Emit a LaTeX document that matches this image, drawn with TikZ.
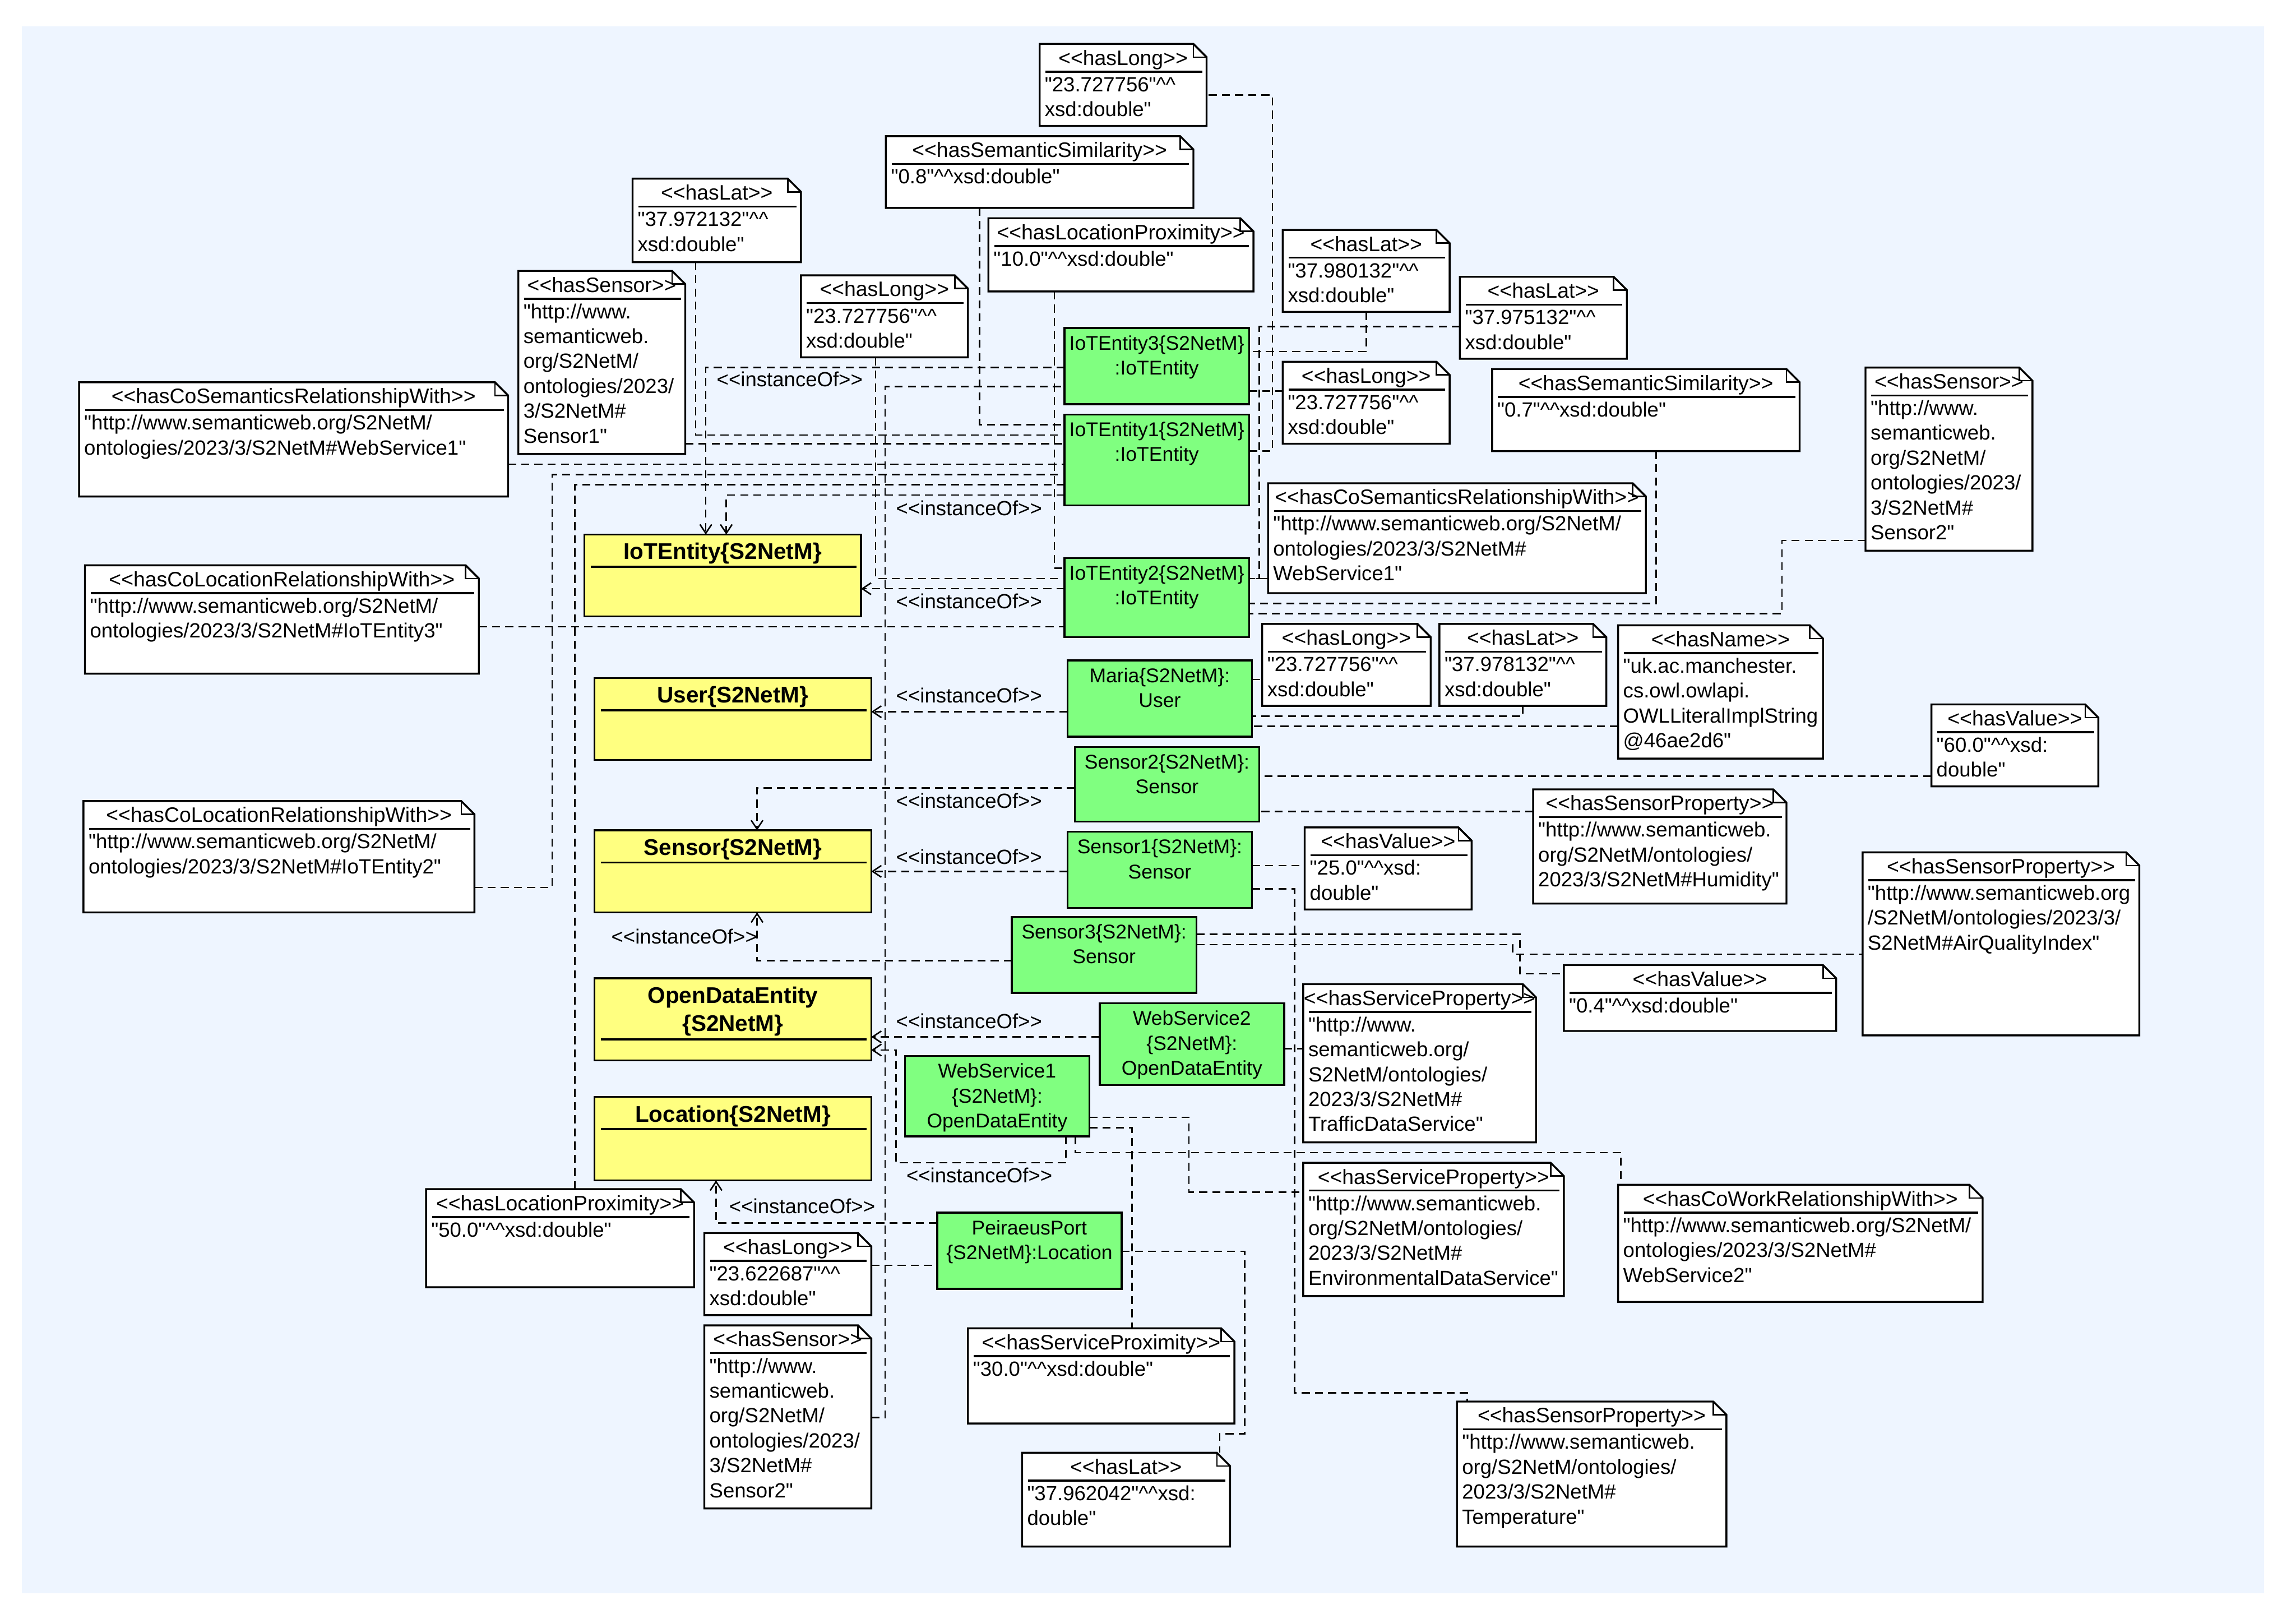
\documentclass[tikz,border=0pt]{standalone}
\usepackage{fontspec}
\newfontfamily\uif{Liberation Sans}
\usetikzlibrary{arrows.meta}
\pgfdeclarelayer{bg}
\pgfsetlayers{bg,main}
\definecolor{bgblue}{RGB}{238,245,255}
\definecolor{clsyellow}{RGB}{255,255,128}
\definecolor{insgreen}{RGB}{128,255,128}
\newcommand\dcaret{\textasciicircum\textasciicircum}
\tikzset{
  boxframe/.style={inner sep=0pt, outer sep=0pt, anchor=north west},
  boxline/.style={line width=1.3pt},
  notetxt/.style={font=\uif\fontsize{14}{17}\selectfont, inner sep=0pt, outer sep=0pt},
  hdrtxt/.style={font=\uif\fontsize{14.3}{17}\selectfont, inner sep=0pt, outer sep=0pt},
  insttxt/.style={font=\uif\fontsize{13.6}{17}\selectfont, inner sep=0pt, outer sep=0pt},
  clstxt/.style={font=\uif\bfseries\fontsize{15.5}{19}\selectfont, inner sep=0pt, outer sep=0pt},
  lbl/.style={notetxt, anchor=base west},
  conn/.style={draw=black, line width=1pt, dash pattern=on 5.5pt off 3.5pt},
  instof/.style={conn, -{Straight Barb[length=6pt,width=8pt,line width=1pt]}},
}
% note: name, x, y, w, h, header, body lines
\newcommand\mknote[7]{%
  \node[boxframe, minimum width=#4pt, minimum height=#5pt] (#1) at (#2,#3) {};
  \filldraw[boxline, fill=white, line join=miter] (#1.north west) -- ([xshift=-9pt]#1.north east) -- ([yshift=-9pt]#1.north east) -- (#1.south east) -- (#1.south west) -- cycle;
  \draw[line width=1pt] ([xshift=-9pt]#1.north east) -- ([xshift=-9pt,yshift=-9pt]#1.north east) -- ([yshift=-9pt]#1.north east);
  \draw[boxline] ([xshift=4pt,yshift=-19pt]#1.north west) -- ([xshift=-3pt,yshift=-19pt]#1.north east);
  \node[hdrtxt, anchor=base] (#1-h) at ([yshift=-14.5pt]#1.north) {#6};
  \foreach \bodyline [count=\i] in {#7} {%
    \pgfmathsetmacro\yy{-32.5-17*(\i-1)}%
    \node[notetxt, anchor=base west] (#1-b\i) at ([xshift=3.5pt,yshift=\yy pt]#1.north west) {\bodyline};
  }%
}
% class: name, x, y, w, h, lines, separator offset
\newcommand\mkclass[7]{%
  \node[boxframe, draw, boxline, fill=clsyellow, minimum width=#4pt, minimum height=#5pt] (#1) at (#2,#3) {};
  \foreach \clsline [count=\i] in {#6} {%
    \pgfmathsetmacro\yy{-17-19*(\i-1)}%
    \node[clstxt, anchor=base] (#1-t\i) at ([yshift=\yy pt]#1.north) {\clsline};
  }%
  \draw[boxline] ([xshift=4.5pt,yshift=-#7pt]#1.north west) -- ([xshift=-3pt,yshift=-#7pt]#1.north east);
}
% instance: name, x, y, w, h, lines
\newcommand\mkinst[6]{%
  \node[boxframe, draw, boxline, fill=insgreen, minimum width=#4pt, minimum height=#5pt] (#1) at (#2,#3) {};
  \foreach \instline [count=\i] in {#6} {%
    \pgfmathsetmacro\yy{-15-17*(\i-1)}%
    \node[insttxt, anchor=base] (#1-t\i) at ([yshift=\yy pt]#1.north) {\instline};
  }%
}
\begin{document}
\begin{tikzpicture}[x=1pt,y=-1pt]
\useasboundingbox (0,0) rectangle (1568,1108);

% ---------- notes ----------
\mknote{nLong1}{710}{30}{114}{56}{<<hasLong>>}{{"23.727756"\dcaret},{xsd:double"}}
\mknote{nSim1}{605}{93}{210}{49}{<<hasSemanticSimilarity>>}{{"0.8"\dcaret xsd:double"}}
\mknote{nLat1}{432}{122}{115}{57}{<<hasLat>>}{{"37.972132"\dcaret},{xsd:double"}}
\mknote{nLocP1}{675}{149}{181}{50}{<<hasLocationProximity>>}{{"10.0"\dcaret xsd:double"}}
\mknote{nLong2}{547}{188}{114}{56}{<<hasLong>>}{{"23.727756"\dcaret},{xsd:double"}}
\mknote{nSens1}{354}{185}{114}{125}{<<hasSensor>>}{{"http://www.},{semanticweb.},{org/S2NetM/},{ontologies/2023/},{3/S2NetM\#},{Sensor1"}}
\mknote{nCoSem1}{54}{261}{293}{78}{<<hasCoSemanticsRelationshipWith>>}{{"http://www.semanticweb.org/S2NetM/},{ontologies/2023/3/S2NetM\#WebService1"}}
\mknote{nLat2}{876}{157}{114}{56}{<<hasLat>>}{{"37.980132"\dcaret},{xsd:double"}}
\mknote{nLat3}{997}{189}{114}{56}{<<hasLat>>}{{"37.975132"\dcaret},{xsd:double"}}
\mknote{nLong3}{876}{247}{114}{56}{<<hasLong>>}{{"23.727756"\dcaret},{xsd:double"}}
\mknote{nSim2}{1019}{252}{210}{56}{<<hasSemanticSimilarity>>}{{"0.7"\dcaret xsd:double"}}
\mknote{nSens2}{1274}{251}{114}{125}{<<hasSensor>>}{{"http://www.},{semanticweb.},{org/S2NetM/},{ontologies/2023/},{3/S2NetM\#},{Sensor2"}}
\mknote{nCoSem2}{866}{330}{258}{75}{<<hasCoSemanticsRelationshipWith>>}{{"http://www.semanticweb.org/S2NetM/},{ontologies/2023/3/S2NetM\#},{WebService1"}}
\mknote{nCoLoc1}{58}{386}{269}{74}{<<hasCoLocationRelationshipWith>>}{{"http://www.semanticweb.org/S2NetM/},{ontologies/2023/3/S2NetM\#IoTEntity3"}}
\mknote{nLong4}{862}{426}{115}{56}{<<hasLong>>}{{"23.727756"\dcaret},{xsd:double"}}
\mknote{nLat4}{983}{426}{114}{56}{<<hasLat>>}{{"37.978132"\dcaret},{xsd:double"}}
\mknote{nName}{1105}{427}{140}{91}{<<hasName>>}{{"uk.ac.manchester.},{cs.owl.owlapi.},{OWLLiteralImplString},{@46ae2d6"}}
\mknote{nVal60}{1319}{481}{114}{56}{<<hasValue>>}{{"60.0"\dcaret xsd:},{double"}}
\mknote{nCoLoc2}{57}{547}{267}{76}{<<hasCoLocationRelationshipWith>>}{{"http://www.semanticweb.org/S2NetM/},{ontologies/2023/3/S2NetM\#IoTEntity2"}}
\mknote{nSP1}{1047}{539}{173}{78}{<<hasSensorProperty>>}{{"http://www.semanticweb.},{org/S2NetM/ontologies/},{2023/3/S2NetM\#Humidity"}}
\mknote{nVal25}{891}{565}{114}{56}{<<hasValue>>}{{"25.0"\dcaret xsd:},{double"}}
\mknote{nSP2}{1272}{582}{189}{125}{<<hasSensorProperty>>}{{"http://www.semanticweb.org},{/S2NetM/ontologies/2023/3/},{S2NetM\#AirQualityIndex"}}
\mknote{nVal04}{1068}{659}{186}{45}{<<hasValue>>}{{"0.4"\dcaret xsd:double"}}
\mknote{nSvP1}{890}{672}{159}{108}{<<hasServiceProperty>>}{{"http://www.},{semanticweb.org/},{S2NetM/ontologies/},{2023/3/S2NetM\#},{TrafficDataService"}}
\mknote{nSvP2}{890}{794}{178}{91}{<<hasServiceProperty>>}{{"http://www.semanticweb.},{org/S2NetM/ontologies/},{2023/3/S2NetM\#},{EnvironmentalDataService"}}
\mknote{nCoWork}{1105}{809}{249}{80}{<<hasCoWorkRelationshipWith>>}{{"http://www.semanticweb.org/S2NetM/},{ontologies/2023/3/S2NetM\#},{WebService2"}}
\mknote{nLocP2}{291}{812}{183}{67}{<<hasLocationProximity>>}{{"50.0"\dcaret xsd:double"}}
\mknote{nLong5}{481}{842}{114}{56}{<<hasLong>>}{{"23.622687"\dcaret},{xsd:double"}}
\mknote{nSens3}{481}{905}{114}{125}{<<hasSensor>>}{{"http://www.},{semanticweb.},{org/S2NetM/},{ontologies/2023/},{3/S2NetM\#},{Sensor2"}}
\mknote{nSvProx}{661}{907}{182}{65}{<<hasServiceProximity>>}{{"30.0"\dcaret xsd:double"}}
\mknote{nLat5}{698}{992}{142}{64}{<<hasLat>>}{{"37.962042"\dcaret xsd:},{double"}}
\mknote{nSP3}{995}{957}{184}{99}{<<hasSensorProperty>>}{{"http://www.semanticweb.},{org/S2NetM/ontologies/},{2023/3/S2NetM\#},{Temperature"}}

% ---------- classes ----------
\mkclass{cIoT}{399}{365}{189}{56}{{IoTEntity\{S2NetM\}}}{22}
\mkclass{cUser}{406}{463}{189}{56}{{User\{S2NetM\}}}{22}
\mkclass{cSensor}{406}{567}{189}{56}{{Sensor\{S2NetM\}}}{22}
\mkclass{cODE}{406}{668}{189}{56}{{OpenDataEntity},{\{S2NetM\}}}{41.7}
\mkclass{cLoc}{406}{749}{189}{57}{{Location\{S2NetM\}}}{22}

% ---------- instances ----------
\mkinst{iE3}{727}{224}{126}{52}{{IoTEntity3\{S2NetM\}},{:IoTEntity}}
\mkinst{iE1}{727}{283}{126}{62}{{IoTEntity1\{S2NetM\}},{:IoTEntity}}
\mkinst{iE2}{727}{381}{126}{54}{{IoTEntity2\{S2NetM\}},{:IoTEntity}}
\mkinst{iMaria}{729}{451}{126}{52}{{Maria\{S2NetM\}:},{User}}
\mkinst{iS2}{734}{510}{126}{51}{{Sensor2\{S2NetM\}:},{Sensor}}
\mkinst{iS1}{729}{568}{126}{52}{{Sensor1\{S2NetM\}:},{Sensor}}
\mkinst{iS3}{691}{626}{126}{52}{{Sensor3\{S2NetM\}:},{Sensor}}
\mkinst{iW2}{751}{685}{126}{56}{{WebService2},{\{S2NetM\}:},{OpenDataEntity}}
\mkinst{iW1}{618}{721}{126}{55}{{WebService1},{\{S2NetM\}:},{OpenDataEntity}}
\mkinst{iPort}{640}{828}{126}{52}{{PeiraeusPort},{\{S2NetM\}:Location}}

% ---------- instanceOf labels ----------
\node[lbl] (lab1) at (489.5,264) {<<instanceOf>>};
\node[lbl] (lab2) at (612,352) {<<instanceOf>>};
\node[lbl] (lab3) at (612,415.7) {<<instanceOf>>};
\node[lbl] (lab4) at (612,480) {<<instanceOf>>};
\node[lbl] (lab5) at (612,552) {<<instanceOf>>};
\node[lbl] (lab6) at (612,590) {<<instanceOf>>};
\node[lbl] (lab7) at (417.5,644.3) {<<instanceOf>>};
\node[lbl] (lab8) at (612,702.3) {<<instanceOf>>};
\node[lbl] (lab9) at (619,807.6) {<<instanceOf>>};
\node[lbl] (lab10) at (498,828.6) {<<instanceOf>>};

\begin{pgfonlayer}{bg}
\fill[white] (0,0) rectangle (1568,1108);
\fill[bgblue] (15,18) rectangle (1546,1088);
% instanceOf connectors
\draw[instof] (iE3.west |- 0,251) -| (482,0 |- cIoT.north);
\draw[instof] (iE1.west |- 0,338) -| (496,0 |- cIoT.north);
\draw[instof] (iE2.west |- 0,402) -- (cIoT.east |- 0,402);
\draw[instof] (iMaria.west |- 0,486) -- (cUser.east |- 0,486);
\draw[instof] (iS2.west |- 0,538) -| (517,0 |- cSensor.north);
\draw[instof] (iS1.west |- 0,595) -- (cSensor.east |- 0,595);
\draw[instof] (iS3.west |- 0,656) -| (517,0 |- cSensor.south);
\draw[instof] (iW2.west |- 0,708) -- (cODE.east |- 0,708);
\draw[instof] (728,0 |- iW1.south) -- (728,794) -- (612,794) -- (612,717) -- (cODE.east |- 0,717);
\draw[instof] (iPort.west |- 0,835) -| (489,0 |- cLoc.south);
% property connectors
\draw[conn] (iE1.east |- 0,308) -- (869,308) -- (869,65) -- (nLong1.east |- 0,65);
\draw[conn] (669,0 |- nSim1.south) -- (669,290) -- (iE1.west |- 0,290);
\draw[conn] (475,0 |- nLat1.south) -- (475,297) -- (iE1.west |- 0,297);
\draw[conn] (nSens1.east |- 0,303) -- (iE1.west |- 0,303);
\draw[conn] (nCoSem1.east |- 0,317) -- (iE1.west |- 0,317);
\draw[conn] (nCoLoc2.east |- 0,606) -- (377,606) -- (377,324) -- (iE1.west |- 0,324);
\draw[conn] (392.6,0 |- nLocP2.north) -- (392.6,331) -- (iE1.west |- 0,331);
\draw[conn] (720,0 |- nLocP1.south) -- (720,388) -- (iE2.west |- 0,388);
\draw[conn] (598,0 |- nLong2.south) -- (598,395) -- (iE2.west |- 0,395);
\draw[conn] (nCoLoc1.east |- 0,428) -- (iE2.west |- 0,428);
\draw[conn] (nSens3.east |- 0,968) -- (604.5,968) -- (604.5,264) -- (iE3.west |- 0,264);
\draw[conn] (933,0 |- nLat2.south) -- (933,240) -- (iE3.east |- 0,240);
\draw[conn] (iE3.east |- 0,267) -- (nLong3.west |- 0,267);
\draw[conn] (nLat3.west |- 0,223) -- (860,223) -- (860,395) -- (iE2.east |- 0,395);
\draw[conn] (nCoSem2.west |- 0,395) -- (iE2.east |- 0,395);
\draw[conn] (1131,0 |- nSim2.south) -- (1131,412) -- (iE2.east |- 0,412);
\draw[conn] (nSens2.west |- 0,369) -- (1217,369) -- (1217,419) -- (iE2.east |- 0,419);
\draw[conn] (iMaria.east |- 0,464) -- (nLong4.west |- 0,464);
\draw[conn] (1040,0 |- nLat4.south) -- (1040,489) -- (iMaria.east |- 0,489);
\draw[conn] (nName.west |- 0,496) -- (iMaria.east |- 0,496);
\draw[conn] (nVal60.west |- 0,530) -- (iS2.east |- 0,530);
\draw[conn] (nSP1.west |- 0,554) -- (iS2.east |- 0,554);
\draw[conn] (iS1.east |- 0,591) -- (nVal25.west |- 0,591);
\draw[conn] (iS1.east |- 0,607) -- (884,607) -- (884,951) -- (1002,951) -- (1002,0 |- nSP3.north);
\draw[conn] (iS3.east |- 0,638) -- (1038,638) -- (1038,665) -- (nVal04.west |- 0,665);
\draw[conn] (iS3.east |- 0,645) -- (1033,645) -- (1033,651.5) -- (nSP2.west |- 0,651.5);
\draw[conn] (iW2.east |- 0,716) -- (nSvP1.west |- 0,716);
\draw[conn] (734.5,0 |- iW1.south) -- (734.5,787) -- (1107,787) -- (1107,0 |- nCoWork.north);
\draw[conn] (iW1.east |- 0,763) -- (812,763) -- (812,814) -- (nSvP2.west |- 0,814);
\draw[conn] (iW1.east |- 0,770) -- (773,770) -- (773,0 |- nSvProx.north);
\draw[conn] (nLong5.east |- 0,864) -- (iPort.west |- 0,864);
\draw[conn] (iPort.east |- 0,854.5) -- (850,854.5) -- (850,979) -- (833,979) -- (833,0 |- nLat5.north);
\end{pgfonlayer}
\end{tikzpicture}
\end{document}
